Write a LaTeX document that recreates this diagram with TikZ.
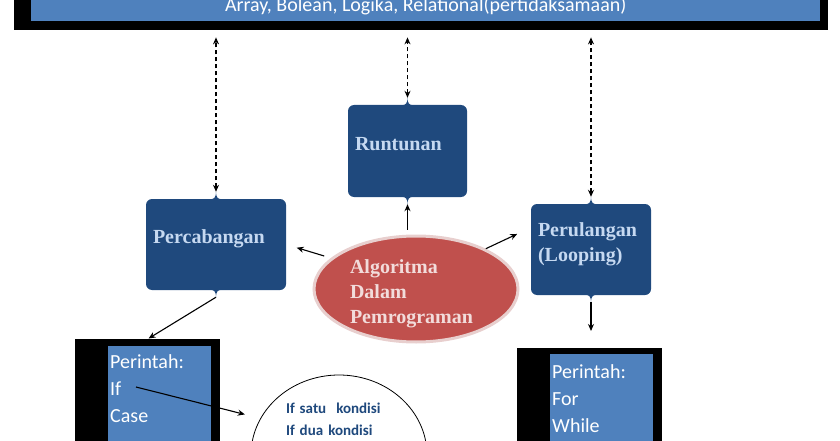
\documentclass[tikz,border=0pt]{standalone}
\usepackage{fontspec}
\setmainfont{Liberation Serif}
\newfontfamily\calibri{Carlito}
\usepackage{tikz}
\usetikzlibrary{shapes.geometric,positioning,calc,arrows.meta}
\definecolor{box_blue}{HTML}{1F497D}
\definecolor{box_text}{HTML}{C6D9F1}
\definecolor{bar_blue}{HTML}{4F81BD}
\definecolor{algo_red}{HTML}{C0504D}
\definecolor{algo_rim}{HTML}{E8CFCE}
\definecolor{algo_text}{HTML}{F2DCDB}
\tikzset{BOX/.style={rectangle,rounded corners=6pt,fill=box_blue,text=box_text,font=\fontsize{20}{25}\selectfont\bfseries,inner xsep=7pt,inner ysep=0pt,minimum height=91pt,text height=10pt,text depth=12pt,align=left}}
\tikzset{ALGO/.style={ellipse,fill=algo_red,draw=algo_rim,line width=3pt,minimum width=204pt,minimum height=106pt,inner sep=0pt,text=algo_text,font=\fontsize{20}{25}\selectfont\bfseries,text width=132pt,align=left,text height=10pt,text depth=42pt}}
\tikzset{FRAME/.style={rectangle,fill=black,inner sep=0pt,anchor=north west}}
\tikzset{LIST/.style={rectangle,fill=bar_blue,text=white,font=\calibri\fontsize{20}{27}\selectfont,inner xsep=2pt,inner ysep=0pt,anchor=north west,align=left,text width=99pt,text depth=100pt}}
\tikzset{ARROW/.style={line width=1.1pt,-{Stealth[length=7pt,width=6pt]}}}
\tikzset{DARROW/.style={line width=1.1pt,dash pattern=on 4pt off 3pt,{Stealth[length=7pt,width=6pt]}-{Stealth[length=7pt,width=6pt]}}}
\tikzset{NOTCH/.pic={\fill[box_blue] (-6,0.5) .. controls (-1.5,0.5) and (0,-2) .. (0,-7) .. controls (0,-2) and (1.5,0.5) .. (6,0.5) -- cycle;}}

\begin{document}
\begin{tikzpicture}[x=1pt,y=-1pt]
\useasboundingbox (0,0) rectangle (840,441);

\node[FRAME, minimum width=814pt, minimum height=40pt] (n_bar) at (14,-10) {};
\node[rectangle, fill=bar_blue, inner sep=0pt, anchor=north west, minimum width=789pt, minimum height=31pt, text=white, font=\calibri\fontsize{20}{24}\selectfont, text height=20pt, text depth=8pt] (n_bar_fill) at (31,-10) {Array, Bolean, Logika, Relational(pertidaksamaan)};

\node[BOX, minimum width=140pt, text width=126pt] (n_percabangan) at (216,244.5) {Percabangan};
\node[BOX, minimum width=119pt, text width=105pt, minimum height=92pt] (n_runtunan) at (407.5,151) {Runtunan};
\node[BOX, minimum width=120pt, text width=106pt, text depth=36pt] (n_perulangan) at (591,249.5) {Perulangan\\(Looping)};

\pic at (n_percabangan.north) {NOTCH};
\pic[rotate=180] at (n_percabangan.south) {NOTCH};
\pic at (n_runtunan.north) {NOTCH};
\pic[rotate=180] at (n_runtunan.south) {NOTCH};
\pic at (n_perulangan.north) {NOTCH};
\pic[rotate=180] at (n_perulangan.south) {NOTCH};

\coordinate (c_perc_top) at ($(n_percabangan.north)+(0,-7)$);
\coordinate (c_perc_bottom) at ($(n_percabangan.south)+(0,7)$);
\coordinate (c_runt_top) at ($(n_runtunan.north)+(0,-7)$);
\coordinate (c_runt_bottom) at ($(n_runtunan.south)+(0,7)$);
\coordinate (c_perl_top) at ($(n_perulangan.north)+(0,-7)$);
\coordinate (c_perl_bottom) at ($(n_perulangan.south)+(0,7)$);

\node[ALGO] (n_algo) at (416,289) {Algoritma\\Dalam\\Pemrograman};

\node[FRAME, minimum width=145pt, minimum height=110pt] (n_frame_if) at (75,339) {};
\node[LIST, text height=22pt] (n_list_if) at (108,346) {Perintah:\\If\\Case};

\node[FRAME, minimum width=145pt, minimum height=100pt] (n_frame_for) at (517,348) {};
\node[LIST, text height=24pt] (n_list_for) at (550,354) {Perintah:\\For\\While};

\node[ellipse, draw=black, line width=0.8pt, fill=white, minimum width=176pt, minimum height=160pt, inner sep=0pt, text width=106pt, align=left, text=box_blue, font=\calibri\bfseries\fontsize{15}{22}\selectfont, text height=10pt, text depth=94pt] (n_kondisi) at (339,455) {If satu\ \ kondisi\\If dua kondisi};

% dashed links to the top bar
\draw[DARROW, shorten >=7pt] (c_perc_top) -- (c_perc_top |- n_bar.south);
\draw[DARROW, shorten >=7pt] (c_runt_top) -- (c_runt_top |- n_bar.south);
\draw[DARROW, shorten >=7pt] (c_perl_top) -- (c_perl_top |- n_bar.south);

\draw[ARROW, shorten <=5pt] (c_runt_bottom |- n_algo.north) -- (c_runt_bottom);
\draw[ARROW, shorten <=7pt, shorten >=11pt] (n_algo.160) -- (n_percabangan.east);
\draw[ARROW, shorten >=15pt] (n_algo.30) -- (n_perulangan.160);

\draw[ARROW, shorten >=1pt] (c_perc_bottom) -- (n_frame_if.north);
\draw[ARROW, shorten >=17pt] (c_perl_bottom) -- (c_perl_bottom |- n_frame_for.north);

\coordinate (c_if) at ($(n_list_if.north west)+(28,41)$);
\draw[ARROW, shorten >=16pt] (c_if) -- (n_kondisi.155);

\end{tikzpicture}
\end{document}
